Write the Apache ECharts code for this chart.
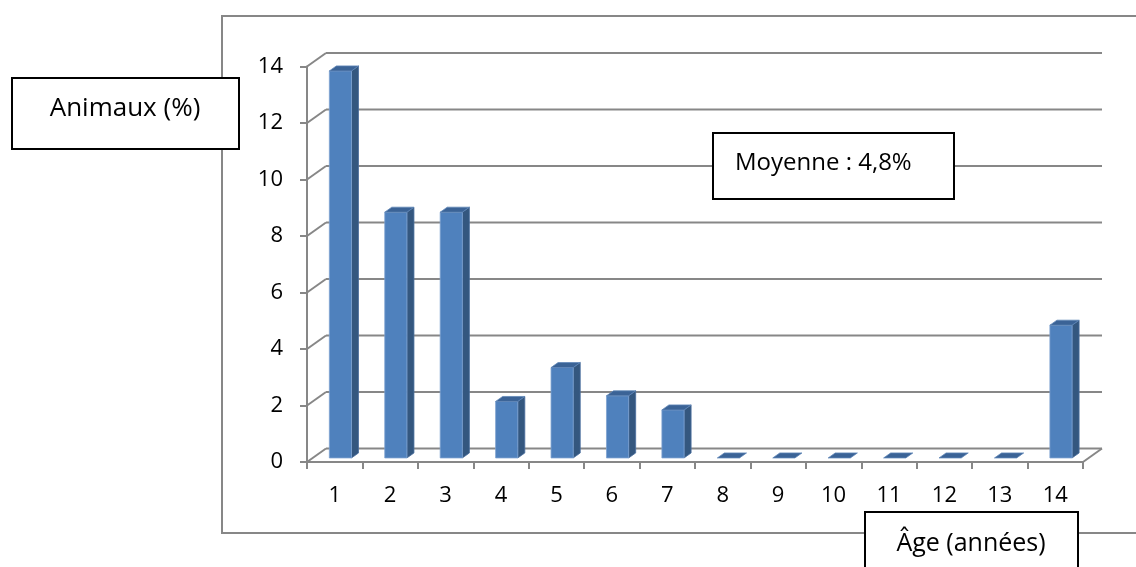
<!DOCTYPE html>
<html>
<head>
<meta charset="utf-8">
<script src="https://cdn.jsdelivr.net/npm/echarts@6/dist/echarts.min.js"></script>
<style>html,body{margin:0;padding:0;background:#fff}#c{width:1136px;height:567px}</style>
</head>
<body>
<div id="c"></div>
<script>
const categories = ['1','2','3','4','5','6','7','8','9','10','11','12','13','14'];
const values = [13.7, 8.7, 8.7, 2.0, 3.2, 2.2, 1.7, 0, 0, 0, 0, 0, 0, 4.7];
const yTicks = [0, 2, 4, 6, 8, 10, 12, 14];
const yTitle = 'Animaux (%)';
const xTitle = 'Âge (années)';
const note = 'Moyenne : 4,8%';

const FONT = 'Open Sans';
const GRID_COLOR = '#878787';
const WALL_DX = 19, WALL_DY = -13.5;

const chart = echarts.init(document.getElementById('c'), null, {renderer: 'canvas'});

function wallItem(params, api) {
  const cs = params.coordSys;
  const v = api.value(1);
  const y = api.coord([0, v])[1];
  const x0 = cs.x, x1 = cs.x + cs.width;
  const children = [
    {type: 'line', shape: {x1: x0, y1: y, x2: x0 + WALL_DX, y2: y + WALL_DY},
     style: {stroke: GRID_COLOR, lineWidth: 2}},
    {type: 'line', shape: {x1: x0 + WALL_DX, y1: y + WALL_DY, x2: x1 + WALL_DX, y2: y + WALL_DY},
     style: {stroke: GRID_COLOR, lineWidth: 2}}
  ];
  if (v === 0) {
    children.push({type: 'line', shape: {x1: x1, y1: y, x2: x1 + WALL_DX, y2: y + WALL_DY},
      style: {stroke: GRID_COLOR, lineWidth: 2}});
  }
  return {type: 'group', children: children};
}

function barItem(params, api) {
  const i = api.value(0), v = api.value(1);
  const top = api.coord([i, v]);
  const base = api.coord([i, 0]);
  const band = api.size([1, 0])[0];
  const w = band * 0.4;
  const ox = WALL_DX * 0.3, oy = WALL_DY * 0.3;
  const dx = WALL_DX * 0.37, dy = WALL_DY * 0.37;
  const L = base[0] - w / 2 + ox, R = L + w;
  const T = top[1] + oy, B = base[1] + oy;
  const children = [];
  if (v > 0) {
    children.push({type: 'polygon', shape: {points: [[R, T], [R + dx, T + dy], [R + dx, B + dy], [R, B]]},
      style: {fill: '#34577f', stroke: '#4a6f9e', lineWidth: 0.8}});
    children.push({type: 'rect', shape: {x: L, y: T, width: w, height: B - T},
      style: {fill: '#4f81bd', stroke: '#7ea2d0', lineWidth: 0.8}});
  }
  children.push({type: 'polygon', shape: {points: [[L, T], [R, T], [R + dx, T + dy], [L + dx, T + dy]]},
    style: {fill: '#3b6396', stroke: '#5f86b8', lineWidth: 0.8}});
  return {type: 'group', children: children};
}

function box(x, y, w, h, text, tx, ty, align, size) {
  return [
    {type: 'rect', z: 100, shape: {x: x, y: y, width: w, height: h},
     style: {fill: '#fff', stroke: '#000', lineWidth: 2}},
    {type: 'text', z: 101, x: tx, y: ty,
     style: {text: text, font: size + 'px "' + FONT + '"', fill: '#000',
             align: align, verticalAlign: 'middle'}}
  ];
}

const option = {
  animation: false,
  backgroundColor: '#fff',
  grid: {left: 307, right: 53, top: 66.5, bottom: 105, containLabel: false},
  xAxis: {
    type: 'category', data: categories, boundaryGap: true,
    axisLine: {show: true, lineStyle: {color: GRID_COLOR, width: 2}},
    axisTick: {show: true, length: 7, alignWithLabel: false, lineStyle: {color: GRID_COLOR, width: 2}},
    axisLabel: {color: '#000', fontFamily: FONT, fontSize: 22, margin: 23, interval: 0},
    splitLine: {show: false}
  },
  yAxis: {
    type: 'value', min: 0, max: 14, interval: 2,
    axisLine: {show: true, lineStyle: {color: GRID_COLOR, width: 2}},
    axisTick: {show: true, length: 7, lineStyle: {color: GRID_COLOR, width: 2}},
    axisLabel: {color: '#000', fontFamily: FONT, fontSize: 22, margin: 24},
    splitLine: {show: false}
  },
  graphic: [
    {type: 'rect', z: -10, shape: {x: 222, y: 16, width: 1000, height: 517},
     style: {fill: 'none', stroke: GRID_COLOR, lineWidth: 2}}
  ].concat(
    box(12, 78, 227, 71, yTitle, 125, 109, 'center', 26),
    box(713, 133, 241, 66, note, 735, 163, 'left', 24),
    box(865, 512, 213, 70, xTitle, 971, 544, 'center', 25)
  ),
  series: [
    {type: 'custom', renderItem: wallItem, z: 1, silent: true,
     data: yTicks.map(v => [0, v]), encode: {x: 0, y: 1}},
    {type: 'custom', renderItem: barItem, z: 5, silent: true,
     data: values.map((v, i) => [i, v]), encode: {x: 0, y: 1}}
  ]
};
chart.setOption(option);
</script>
</body>
</html>
